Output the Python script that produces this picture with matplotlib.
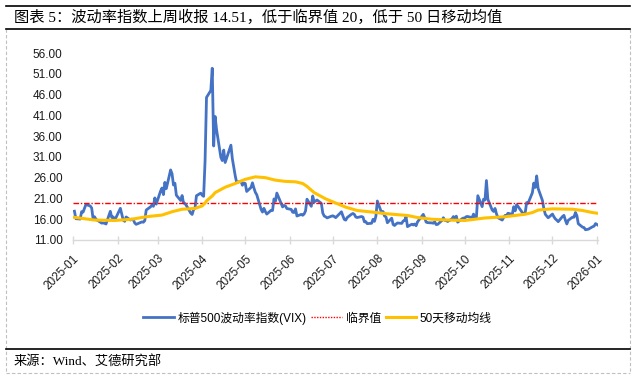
import numpy as np
import pandas as pd
import matplotlib
matplotlib.use("Agg")
import matplotlib.pyplot as plt
from matplotlib.lines import Line2D

plt.rcParams['font.family'] = ['Liberation Sans', 'Noto Sans CJK SC', 'DejaVu Sans']

# ---- data ----
# NYSE closed days, used to lay out the trading-day calendar
market_holidays = ['2025-01-01', '2025-01-09', '2025-01-20', '2025-02-17', '2025-04-18',
                   '2025-05-26', '2025-06-19', '2025-07-04', '2025-09-01', '2025-11-27',
                   '2025-12-25', '2026-01-01']

vix_values = [
    # 2025-01
    17.93, 16.13, 16.04, 17.82, 17.70, 19.54, 19.19, 18.71, 16.12, 16.60,
    15.97, 15.06, 15.10, 15.02, 14.85, 17.90, 16.41, 16.56, 15.84, 16.43,
    # 2025-02
    18.62, 17.21, 15.77, 15.50, 16.54, 15.81, 16.02, 15.89, 15.10, 14.77,
    15.35, 15.27, 15.66, 18.21, 18.98, 19.43, 19.10, 21.13, 19.63,
    # 2025-03
    22.78, 23.51, 21.93, 24.87, 23.37, 27.86, 26.92, 24.23, 24.66, 21.77,
    20.51, 21.70, 19.90, 19.80, 19.28, 17.48, 17.15, 18.33, 18.69, 21.65, 22.28,
    # 2025-04
    21.77, 21.51, 30.02, 45.31, 46.98, 52.33, 33.62, 40.72, 37.56, 30.89,
    30.12, 32.64, 29.65, 33.82, 30.57, 28.45, 26.47, 24.84, 25.15, 24.17, 24.70,
    # 2025-05
    24.60, 22.68, 23.64, 24.76, 23.55, 22.48, 21.90, 18.39, 17.72, 18.62,
    17.83, 17.24, 18.14, 18.09, 20.87, 20.28, 22.29, 18.96, 19.31, 19.18, 18.57,
    # 2025-06
    18.36, 17.69, 17.61, 18.48, 16.77, 17.16, 16.95, 17.26, 18.02, 20.82,
    19.11, 21.60, 20.14, 20.62, 19.83, 17.48, 16.76, 16.59, 16.32, 16.73,
    # 2025-07
    16.83, 16.64, 16.38, 17.79, 16.81, 15.94, 15.78, 16.40, 17.20, 17.38, 17.16,
    16.52, 16.41, 16.65, 16.50, 15.37, 15.39, 14.93, 15.03, 15.98, 15.48, 16.72,
    # 2025-08
    20.38, 17.52, 17.85, 16.77, 16.57, 15.15, 16.25, 14.73, 14.49, 14.83,
    15.09, 15.00, 15.57, 15.69, 16.60, 14.22, 14.79, 14.62, 14.85, 14.43, 15.36,
    # 2025-09
    17.17, 16.35, 15.30, 15.18, 15.11, 15.04, 15.35, 14.71, 14.76, 15.69,
    16.36, 15.72, 15.70, 15.45, 16.10, 16.64, 16.18, 16.74, 15.29, 16.12, 16.28,
    # 2025-10
    16.29, 16.63, 16.65, 16.37, 17.24, 16.30, 16.43, 21.66, 19.03, 20.81, 20.64, 25.31,
    20.78, 18.23, 17.87, 18.60, 17.30, 16.37, 15.79, 16.42, 16.92, 16.91, 17.44,
    # 2025-11
    17.17, 19.00, 18.01, 19.50, 19.08, 17.60, 17.28, 17.51, 20.00, 19.83,
    22.38, 24.69, 23.66, 26.42, 23.43, 20.52, 18.56, 17.19, 16.35,
    # 2025-12
    17.24, 16.59, 16.08, 15.78, 15.41, 16.66, 16.93, 15.77, 14.85, 15.74, 16.50,
    16.48, 17.62, 16.87, 14.91, 14.08, 14.00, 13.47, 13.60, 14.20, 14.33, 14.95,
    # 2026-01
    14.51,
]

# 50-day moving average
ma_dates = ['2025-01-02', '2025-01-16', '2025-01-30', '2025-02-11', '2025-02-21', '2025-03-04',
            '2025-03-11', '2025-03-18', '2025-03-27', '2025-04-01', '2025-04-03', '2025-04-04',
            '2025-04-08', '2025-04-10', '2025-04-17', '2025-04-24', '2025-05-01', '2025-05-08',
            '2025-05-15', '2025-05-22', '2025-05-29', '2025-06-05', '2025-06-10', '2025-06-13',
            '2025-06-18', '2025-06-26', '2025-07-03', '2025-07-10', '2025-07-18', '2025-07-29',
            '2025-08-08', '2025-08-22', '2025-08-29', '2025-09-08', '2025-09-19', '2025-10-01',
            '2025-10-15', '2025-10-29', '2025-11-12', '2025-11-17', '2025-11-21', '2025-12-01',
            '2025-12-15', '2025-12-22', '2025-12-29', '2026-01-02']
ma_values = [16.45, 15.8, 15.7, 16.0, 16.6, 17.0,
             17.8, 18.4, 18.6, 19.2, 19.9, 20.4,
             21.6, 22.4, 23.7, 24.6, 25.6, 26.2,
             26.0, 25.4, 25.1, 25.0, 24.6, 23.9,
             22.4, 20.9, 19.9, 18.9, 18.1, 17.7,
             17.3, 16.9, 16.4, 16.0, 15.8, 15.7,
             16.3, 16.6, 17.2, 17.6, 18.2, 18.5,
             18.4, 18.1, 17.6, 17.4]

critical_value = 20

title = '图表 5：波动率指数上周收报 14.51，低于临界值 20，低于 50 日移动均值'
source = '来源：Wind、艾德研究部'
legend_labels = ['标普500波动率指数(VIX)', '临界值', '50天移动均线']

# ---- figure ----
W, H = 635, 384
fig = plt.figure(figsize=(W / 100, H / 100), dpi=100)

vix_dates = pd.bdate_range('2025-01-02', '2026-01-02', freq='C', holidays=market_holidays)
ma_dt = pd.to_datetime(ma_dates)

ax = fig.add_axes([73 / W, 1 - 240 / H, (598.4 - 73) / W, (240 - 53) / H])
l1, = ax.plot(vix_dates, vix_values, color='#4472C4', lw=2.0, solid_joinstyle='round')
ax.axhline(critical_value, color='#FF0000', lw=1.0, linestyle=(0, (4, 1.3, 1, 1.3)))
l3, = ax.plot(ma_dt, ma_values, color='#FFC000', lw=2.2, solid_joinstyle='round')

ax.set_xlim(pd.Timestamp('2025-01-01'), pd.Timestamp('2026-01-02'))
ax.set_ylim(11, 56)
yt = np.arange(11, 57, 5)
ax.set_yticks(yt)
ax.set_yticklabels(['%.2f' % v for v in yt])
months = pd.date_range('2025-01-01', '2026-01-01', freq='MS')
ax.set_xticks(months)
ax.set_xticklabels([m.strftime('%Y-%m') for m in months], rotation=45,
                   ha='right', va='top', rotation_mode='anchor')

for s in ['left', 'right', 'top']:
    ax.spines[s].set_visible(False)
ax.spines['bottom'].set_color('#D9D9D9')
ax.spines['bottom'].set_linewidth(1.0)
ax.tick_params(axis='y', length=0, pad=7.5, labelsize=8.5, labelcolor='#1a1a1a')
ax.tick_params(axis='x', direction='inout', length=6, width=1.0, color='#D9D9D9',
               pad=6, labelsize=8.5, labelcolor='#1a1a1a')

red_handle = Line2D([], [], color='#FF0000', lw=1.0, linestyle=(0, (1, 1)))
fig.legend([l1, red_handle, l3], legend_labels, loc='center', bbox_to_anchor=(0.5, 1 - 318 / H),
           ncol=3, frameon=False, fontsize=8.5, handlelength=2.6, handletextpad=0.3,
           columnspacing=0.4)

# ---- frame ----
def fline(xs, ys, **kw):
    fig.add_artist(Line2D([x / W for x in xs], [1 - y / H for y in ys],
                          transform=fig.transFigure, **kw))

dash = dict(color='#BFBFBF', lw=0.8, linestyle=(0, (3, 2)))
fline([6, 6], [29, 373], **dash)
fline([630, 630], [29, 373], **dash)
fline([6, 630], [373, 373], **dash)
fline([6, 630], [5.5, 5.5], color='black', lw=1.2)
fline([6, 630], [28.5, 28.5], color='black', lw=1.2)
fline([6, 630], [349, 349], color='black', lw=1.2)

fig.text(14 / W, 1 - 17 / H, title, fontsize=11, va='center', ha='left',
         family=['Liberation Serif', 'Noto Sans CJK SC'])
fig.text(14 / W, 1 - 361 / H, source, fontsize=9.5, va='center', ha='left',
         family=['Liberation Serif', 'Noto Sans CJK SC'])

fig.savefig('out.png', dpi=100)
